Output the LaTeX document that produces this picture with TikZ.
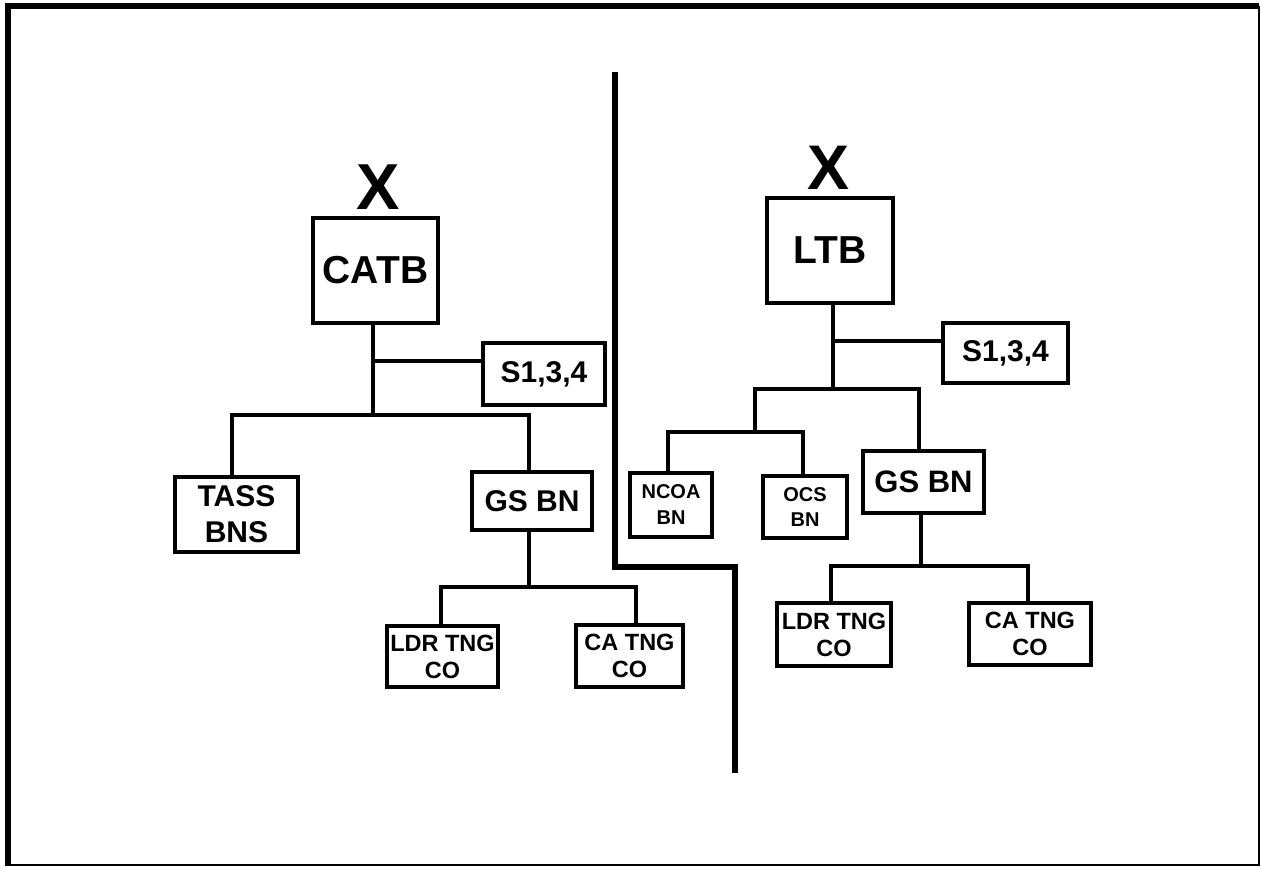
\documentclass[tikz,border=0pt]{standalone}
\usepackage{fontspec}
\setmainfont{Liberation Sans}
\begin{document}
\begin{tikzpicture}[x=1pt,y=-1pt,
  box/.style={draw,line width=3.4pt,inner sep=0pt,align=center,font=\bfseries},
  conn/.style={line width=3.4pt},
  divider/.style={line width=6pt},
  fs/.code n args={2}{\tikzset{font=\bfseries\fontsize{#1}{#2}\selectfont}}]
\useasboundingbox (0,0) rectangle (1261,869);
% outer frame
\draw[line width=6pt] (8,866) -- (8,6) -- (1259,6);
\draw[line width=2.5pt] (1259,6) -- (1259,865) -- (8,865);
% headers
\node[font=\bfseries\fontsize{65}{65}\selectfont,inner sep=0pt] (xl) at (378,187) {X};
\node[font=\bfseries\fontsize{63}{63}\selectfont,inner sep=0pt] (xr) at (829,168) {X};
% left tree
\node[box,minimum width=125pt,minimum height=105pt,fs={39}{40}] (catb) at (375.5,270.5) {CATB};
\node[box,minimum width=122pt,minimum height=62pt,fs={30}{30}] (s1l) at (544,374) {S1,3,4};
\node[box,minimum width=123pt,minimum height=75pt,fs={30}{36}] (tass) at (236.5,514.5) {TASS\\BNS};
\node[box,minimum width=120pt,minimum height=58pt,fs={30}{30}] (gsl) at (532,501) {GS BN};
\node[box,minimum width=111pt,minimum height=61pt,fs={23.5}{27}] (ldrl) at (442.5,656.5) {LDR TNG\\CO};
\node[box,minimum width=107pt,minimum height=62pt,fs={23.5}{27}] (cal) at (629.5,656) {CA TNG\\CO};
% right tree
\node[box,minimum width=126pt,minimum height=105pt,fs={39}{40}] (ltb) at (830,250.5) {LTB};
\node[box,minimum width=125pt,minimum height=60pt,fs={30}{30}] (s1r) at (1005.5,353) {S1,3,4};
\node[box,minimum width=82pt,minimum height=64pt,fs={20}{26}] (ncoa) at (671,505) {NCOA\\BN};
\node[box,minimum width=84pt,minimum height=62pt,fs={20}{25}] (ocs) at (805,507) {OCS\\BN};
\node[box,minimum width=121pt,minimum height=62pt,fs={31}{30}] (gsr) at (923.5,482) {GS BN};
\node[box,minimum width=114pt,minimum height=63pt,fs={23.5}{27}] (ldrr) at (834,634.5) {LDR TNG\\CO};
\node[box,minimum width=122pt,minimum height=62pt,fs={23.5}{27}] (car) at (1030,634) {CA TNG\\CO};
% junction coordinates
\coordinate (lj1) at (373,361);
\coordinate (lj2) at (373,415);
\coordinate (lbarL) at (232,415);
\coordinate (lbarR) at (529,415);
\coordinate (lj3) at (529,587);
\coordinate (lsbL) at (441,587);
\coordinate (lsbR) at (636,587);
\coordinate (rj1) at (833,341);
\coordinate (rj2) at (833,389);
\coordinate (rbarL) at (755,389);
\coordinate (rbarR) at (919,389);
\coordinate (rsub) at (755,432);
\coordinate (rsubL) at (668,432);
\coordinate (rsubR) at (803,432);
\coordinate (rj3) at (921,566);
\coordinate (rsbL) at (831,566);
\coordinate (rsbR) at (1028,566);
% left connectors
\draw[conn] (catb.south -| lj2) -- (lj2);
\draw[conn] (lj1) -- (lj1 -| s1l.west);
\draw[conn] (tass.north -| lbarL) -- (lbarL) -- (lbarR) -- (gsl.north -| lbarR);
\draw[conn] (gsl.south -| lj3) -- (lj3);
\draw[conn] (ldrl.north -| lsbL) -- (lsbL) -- (lsbR) -- (cal.north -| lsbR);
% right connectors
\draw[conn] (ltb.south -| rj2) -- (rj2);
\draw[conn] (rj1) -- (rj1 -| s1r.west);
\draw[conn] (rsub) -- (rbarL) -- (rbarR) -- (gsr.north -| rbarR);
\draw[conn] (ncoa.north -| rsubL) -- (rsubL) -- (rsubR) -- (ocs.north -| rsubR);
\draw[conn] (gsr.south -| rj3) -- (rj3);
\draw[conn] (ldrr.north -| rsbL) -- (rsbL) -- (rsbR) -- (car.north -| rsbR);
% divider
\coordinate (d1) at (615,72);
\coordinate (d2) at (615,567);
\coordinate (d3) at (735,567);
\coordinate (d4) at (735,773);
\draw[divider] (d1) -- (d2) -- (d3) -- (d4);
\end{tikzpicture}
\end{document}
